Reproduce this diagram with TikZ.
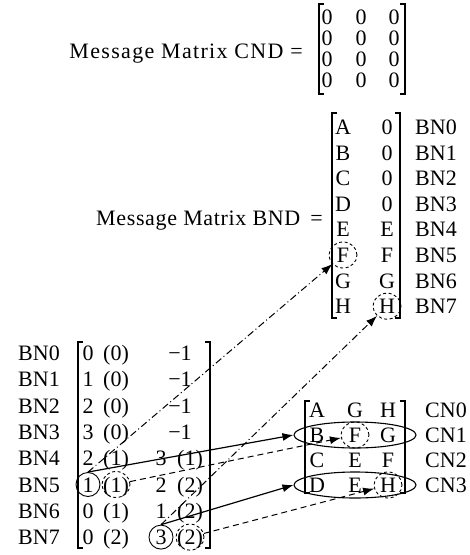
\documentclass[tikz,border=0pt]{standalone}
\usepackage{fontspec}
\setmainfont{Liberation Serif}
\usetikzlibrary{positioning,shapes.geometric,arrows.meta}

\begin{document}
\begin{tikzpicture}[
  x=1pt, y=-1pt,
  % Node styles
  entry/.style={
    inner sep=0pt,
    text height=15pt,
    text depth=0pt,
    font=\fontsize{22}{26}\selectfont,
  },
  title/.style={
    inner sep=0pt,
    anchor=base east,
    font=\fontsize{22}{26}\selectfont,
  },
  solid ring/.style={
    circle,
    draw,
    line width=0.9pt,
    minimum size=24pt,
    inner sep=0pt,
  },
  dashed ring/.style={
    ellipse,
    draw,
    dash pattern=on 3pt off 2.5pt,
    line width=0.9pt,
    minimum width=28pt,
    minimum height=26pt,
    inner sep=0pt,
  },
  row ring/.style={
    ellipse,
    draw,
    line width=1.1pt,
    minimum width=122pt,
    minimum height=26pt,
    inner sep=0pt,
  },
  % Bracket styles
  bracket/.style={line width=2pt},
  thin bracket/.style={line width=1.3pt},
  % Edge styles
  solid link/.style={
    -{Latex[length=11pt,width=8pt]},
    line width=1.2pt,
  },
  dashed link/.style={
    solid link,
    line width=1pt,
    dash pattern=on 6pt off 4pt,
  },
  chain link/.style={
    solid link,
    line width=1pt,
    dash pattern=on 7pt off 3pt on 1pt off 3pt,
  },
]
  \useasboundingbox (0,0) rectangle (470,555);

  % Spacing constants (plain numbers, in pt)
  \pgfmathsetmacro{\cndsep}{21}     % row pitch of the CND matrix
  \pgfmathsetmacro{\bndsep}{25.6}   % row pitch of the BND matrix
  \pgfmathsetmacro{\idxsep}{26.3}   % row pitch of the index matrix
  \pgfmathsetmacro{\cnsep}{25}      % row pitch of the check node matrix

  % Message matrix CND (4 x 3 zeros)
  \node[title] (cnd-title) at (303,58) {\addfontfeatures{LetterSpace=6}Message Matrix CND =};
  \foreach \r in {0,...,3} {
    \pgfmathsetmacro{\ypos}{17 + \r*\cndsep}
    \node[entry] (cnd-\r-1) at (327,\ypos) {0};
    \node[entry] (cnd-\r-2) at (361,\ypos) {0};
    \node[entry] (cnd-\r-3) at (394,\ypos) {0};
  }
  \draw[thin bracket] (324,4) -- (319,4) -- (319,94) -- (324,94);
  \draw[thin bracket] (400,4) -- (405,4) -- (405,94) -- (400,94);

  % Message matrix BND (8 x 2)
  \node[title] (bnd-title) at (323,225) {\addfontfeatures{LetterSpace=3}Message Matrix BND\hspace{10pt}=};
  \foreach \r/\va/\vb in {0/A/0, 1/B/0, 2/C/0, 3/D/0, 4/E/E, 5/F/F, 6/G/G, 7/H/H} {
    \pgfmathsetmacro{\ypos}{127 + \r*\bndsep}
    \node[entry] (bnd-\r-1) at (343,\ypos) {\va};
    \node[entry] (bnd-\r-2) at (387,\ypos) {\vb};
    \node[entry] (bnd-lbl-\r) at (436,\ypos) {BN\r};
  }
  \draw[bracket] (337,113) -- (332,113) -- (332,318) -- (337,318);
  \draw[bracket] (395,113) -- (400,113) -- (400,318) -- (395,318);

  % Index matrix (8 x 2), digit and bracketed part as separate nodes
  \foreach \r/\da/\pa in {0/0/0, 1/1/0, 2/2/0, 3/3/0, 4/2/1, 5/1/1, 6/0/1, 7/0/2} {
    \pgfmathsetmacro{\ypos}{353 + \r*\idxsep}
    \node[entry] (idx-lbl-\r) at (39,\ypos) {BN\r};
    \node[entry] (idx-\r-a) at (88,\ypos) {\da};
    \node[entry] (idx-\r-b) at (116,\ypos) {(\pa)};
  }
  \foreach \r in {0,...,3} {
    \pgfmathsetmacro{\ypos}{353 + \r*\idxsep}
    \node[entry] (idx-\r-c) at (180,\ypos) {−1};
  }
  \foreach \r/\db/\pb in {4/3/1, 5/2/2, 6/1/2, 7/3/2} {
    \pgfmathsetmacro{\ypos}{353 + \r*\idxsep}
    \node[entry] (idx-\r-c) at (161,\ypos) {\db};
    \node[entry] (idx-\r-d) at (190,\ypos) {(\pb)};
  }
  \draw[bracket] (83,342) -- (78,342) -- (78,548) -- (83,548);
  \draw[bracket] (205,342) -- (210,342) -- (210,548) -- (205,548);

  % Check node matrix (4 x 3)
  \foreach \r/\va/\vb/\vc in {0/A/G/H, 1/B/F/G, 2/C/E/F, 3/D/E/H} {
    \pgfmathsetmacro{\ypos}{410 + \r*\cnsep}
    \node[entry] (cn-\r-1) at (317,\ypos) {\va};
    \node[entry] (cn-\r-2) at (355,\ypos) {\vb};
    \node[entry] (cn-\r-3) at (388,\ypos) {\vc};
    \node[entry] (cn-lbl-\r) at (446,\ypos) {CN\r};
  }
  \draw[thin bracket] (310,401) -- (305,401) -- (305,493) -- (310,493);
  \draw[thin bracket] (400,401) -- (405,401) -- (405,493) -- (400,493);

  % Rings
  \node[solid ring] (ring-one) at (idx-5-a) {};
  \node[dashed ring] (ring-one-p) at (idx-5-b) {};
  \node[solid ring] (ring-three) at (idx-7-c) {};
  \node[dashed ring] (ring-three-p) at (idx-7-d) {};
  \node[dashed ring] (bnd-F) at (bnd-5-1) {};
  \node[dashed ring] (bnd-H) at (bnd-7-2) {};
  \node[row ring] (cn-row1) at (cn-1-2) {};
  \node[row ring] (cn-row3) at (cn-3-2) {};
  \node[dashed ring] (cn-F) at (cn-1-2) {};
  \node[dashed ring] (cn-H) at (cn-3-3) {};

  % Links
  \draw[chain link] (ring-one.north) -- (bnd-F);
  \draw[chain link] (ring-three.north) -- (bnd-H);
  \draw[solid link] (ring-one.north) -- (cn-row1.west);
  \draw[solid link] (ring-three.north) -- (cn-row3.west);
  \draw[dashed link] (ring-one-p) -- (cn-F);
  \draw[dashed link] (ring-three-p) -- (cn-H);

\end{tikzpicture}
\end{document}
